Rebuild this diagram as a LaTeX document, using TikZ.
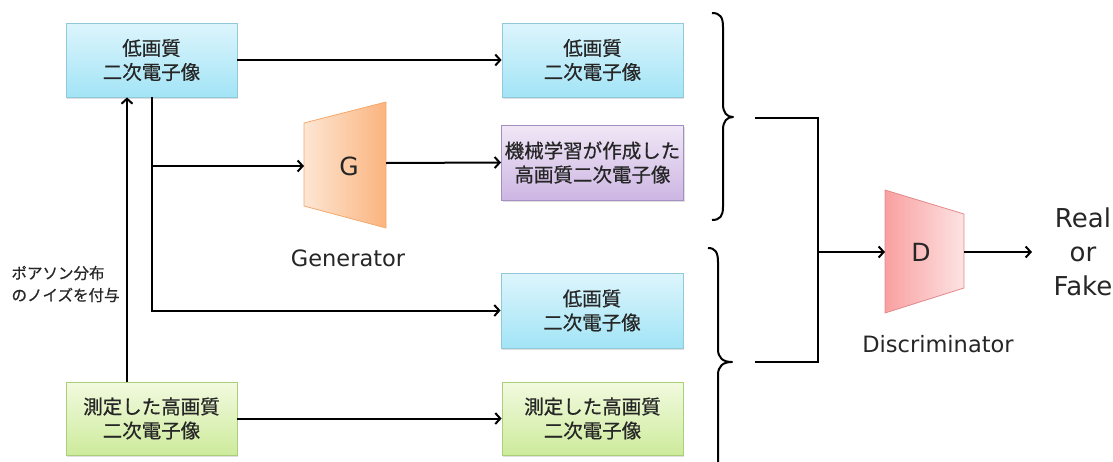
\documentclass[tikz,border=0pt]{standalone}
\usepackage{fontspec}
\setmainfont{DejaVu Sans}
\newfontfamily\jp[FakeBold=0.6]{Noto Sans CJK JP}
\usetikzlibrary{arrows.meta,shadows}

\definecolor{bluetop}{HTML}{DDF5FC}
\definecolor{bluebot}{HTML}{A2E4F6}
\definecolor{blueedge}{HTML}{92C9DA}
\definecolor{purptop}{HTML}{F0E7F6}
\definecolor{purpbot}{HTML}{CDB6E3}
\definecolor{purpedge}{HTML}{A58FC2}
\definecolor{greentop}{HTML}{F2FADF}
\definecolor{greenbot}{HTML}{CDEB9C}
\definecolor{greenedge}{HTML}{A9CF78}
\definecolor{genlight}{HTML}{FDE6D3}
\definecolor{gendark}{HTML}{FBB47E}
\definecolor{genedge}{HTML}{F4A86C}
\definecolor{disdark}{HTML}{F9A0A0}
\definecolor{dislight}{HTML}{FDE3E3}
\definecolor{disedge}{HTML}{E08A8A}
\definecolor{txt}{HTML}{262626}

\tikzset{
  imgbox/.style={draw, line width=0.8pt, minimum width=171pt, minimum height=74pt,
    align=center, text=txt, font=\jp\fontsize{19.5}{24}\selectfont,
    drop shadow={shadow xshift=1.2pt, shadow yshift=-1.5pt, opacity=0.25}},
  lowq/.style={imgbox, top color=bluetop, bottom color=bluebot, draw=blueedge},
  mlq/.style={imgbox, top color=purptop, bottom color=purpbot, draw=purpedge},
  meas/.style={imgbox, top color=greentop, bottom color=greenbot, draw=greenedge},
  arr/.style={line width=2pt, -{Straight Barb[length=5pt,width=11pt,line width=2pt]}},
  plain/.style={line width=2pt},
  bracestyle/.style={line width=2pt, line join=round},
  caption/.style={font=\fontsize{22.5}{27}\selectfont, text=txt},
  letter/.style={font=\fontsize{25}{30}\selectfont, text=txt}
}

\begin{document}
\begin{tikzpicture}[x=1pt,y=-1pt]
\useasboundingbox (0,0) rectangle (1113,461);

% image boxes
\node[lowq] (tl) at (151.5,60) {低画質\\二次電子像};
\node[lowq, minimum width=181pt] (tr) at (592.5,60) {低画質\\二次電子像};
\node[mlq, minimum width=181pt, minimum height=75pt] (pb) at (592.5,162.5) {機械学習が作成した\\高画質二次電子像};
\node[lowq, minimum width=182pt, minimum height=75pt] (b3) at (592,310.5) {低画質\\二次電子像};
\node[meas, minimum height=73pt] (gl) at (151.5,418.5) {測定した高画質\\二次電子像};
\node[meas, minimum width=181pt, minimum height=73pt] (gr) at (592.5,418.5) {測定した高画質\\二次電子像};

% generator
\shade[left color=genlight, right color=gendark] (304,123) -- (386,102) -- (386,228) -- (304,206) -- cycle;
\draw[genedge, line width=0.8pt, line join=round] (304,123) -- (386,102) -- (386,228) -- (304,206) -- cycle;
\node[letter] (G) at (349,166) {G};
\coordinate (Gin) at (304,166);
\coordinate (Gout) at (386,163);
\node[caption] (gen) at (348,258) {Generator};

% discriminator
\shade[left color=disdark, right color=dislight] (885,190) -- (964,214) -- (964,288) -- (885,313) -- cycle;
\draw[disedge, line width=0.8pt, line join=round] (885,190) -- (964,214) -- (964,288) -- (885,313) -- cycle;
\node[letter] (D) at (921,252) {D};
\coordinate (Din) at (885,252);
\coordinate (Dout) at (964,252);
\node[caption] (dis) at (938,344) {Discriminator};
\node[align=center, text=txt, font=\fontsize{26}{34}\selectfont] (out) at (1083,252) {Real\\or\\Fake};

% connectors
\draw[arr] (tl.east) -- (tr.west);
\draw[arr] (tl.south) |- (Gin);
\draw[arr] (tl.south) |- (b3.west);
\draw[arr] (Gout) -- (pb.west);
\draw[arr] (gl.east) -- (gr.west);
\draw[arr] ([xshift=-24.5pt]gl.north) -- ([xshift=-24.5pt]tl.south);
\node[anchor=west, align=left, text=txt, font=\jp\fontsize{15.5}{22}\selectfont] (noise) at (8,284) {ポアソン分布\\のノイズを付与};

% braces
\draw[bracestyle] (712,13) .. controls (720,13) and (723,17) .. (723,27) -- (723,104)
  .. controls (723,113) and (727,117) .. (733,117)
  .. controls (727,117) and (723,121) .. (723,130) -- (723,207)
  .. controls (723,216) and (720,220) .. (712,220);
\begin{scope}
\clip (690,240) rectangle (760,461);
\draw[bracestyle] (708,248) .. controls (715,248) and (718,252) .. (718,262) -- (718,349)
  .. controls (718,358) and (723,362) .. (732,362)
  .. controls (723,362) and (718,366) .. (718,375) -- (718,470);
\end{scope}
\coordinate (b1) at (755,118);
\coordinate (b2) at (755,362);
\coordinate (jt) at (818,118);
\coordinate (jb) at (818,362);
\draw[plain, line join=miter] (b1) -- (jt) -- (jb) -- (b2);
\draw[arr] (jt |- Din) -- (Din);
\draw[arr] (Dout) -- ([xshift=68pt]Dout);
\end{tikzpicture}
\end{document}
